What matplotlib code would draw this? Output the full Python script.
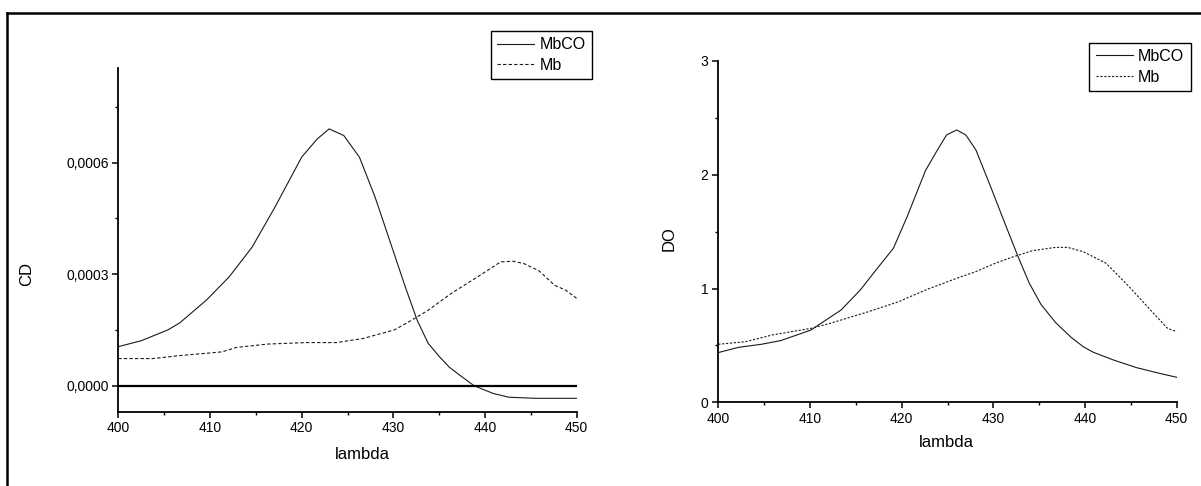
import matplotlib
matplotlib.use("Agg")
import matplotlib.pyplot as plt
from matplotlib.ticker import MultipleLocator, FuncFormatter
from matplotlib.lines import Line2D

plt.rcParams['font.family'] = ['Liberation Sans', 'DejaVu Sans']

# CD panel (values in units of 1e-4)
cd_lam_mbco = [400, 402.5, 405.4, 406.7, 409.6, 412.1, 414.6, 417.1, 420.0, 421.7,
               423.0, 424.6, 426.3, 428.0, 429.6, 431.3, 432.6, 433.8, 435.1, 436.1,
               437.2, 438.8, 440.9, 442.6, 445.5, 450]
cd_mbco = [1.05, 1.21, 1.50, 1.69, 2.30, 2.93, 3.73, 4.81, 6.15, 6.64,
           6.91, 6.73, 6.15, 5.08, 3.91, 2.66, 1.76, 1.14, 0.76, 0.50,
           0.29, 0.0, -0.21, -0.31, -0.34, -0.34]
cd_lam_mb = [400, 403.8, 406.7, 410.4, 411.3, 412.9, 416.3, 420.5, 423.8, 426.7,
             430.1, 431.7, 433.8, 436.3, 439.2, 441.7, 443.0, 444.2, 445.9, 447.6,
             448.8, 450]
cd_mb = [0.73, 0.73, 0.81, 0.89, 0.91, 1.03, 1.12, 1.16, 1.16, 1.27,
         1.50, 1.72, 2.03, 2.48, 2.93, 3.33, 3.35, 3.29, 3.09, 2.70,
         2.57, 2.35]

# DO panel
do_lam_mbco = [400, 402.2, 404.7, 406.8, 410.1, 413.4, 415.5, 417.2, 419.1, 420.6,
               422.6, 423.9, 424.9, 426.0, 427.0, 428.1, 429.7, 431.4, 432.7, 433.9,
               435.2, 436.8, 438.5, 439.8, 440.9, 443.1, 445.6, 448.1, 450]
do_mbco = [0.437, 0.483, 0.510, 0.542, 0.635, 0.812, 0.988, 1.163, 1.354, 1.632,
           2.037, 2.218, 2.350, 2.394, 2.350, 2.218, 1.896, 1.544, 1.280, 1.050,
           0.860, 0.700, 0.570, 0.489, 0.440, 0.372, 0.305, 0.255, 0.220]
do_lam_mb = [400, 403.0, 405.9, 410.1, 412.2, 416.4, 419.7, 422.6, 426.0, 428.1,
             430.2, 432.2, 434.3, 436.8, 438.1, 439.8, 442.3, 444.8, 447.3, 449.0, 450]
do_mb = [0.510, 0.533, 0.592, 0.650, 0.694, 0.797, 0.885, 0.987, 1.090, 1.149,
         1.222, 1.280, 1.333, 1.362, 1.362, 1.324, 1.222, 1.017, 0.797, 0.650, 0.621]

W, H = 1201, 486
fig = plt.figure(figsize=(W / 100, H / 100), dpi=100)

ax1 = fig.add_axes([118.3 / W, 1 - 411.7 / H, 458.4 / W, 343.4 / H])
ax2 = fig.add_axes([718.3 / W, 1 - 402.3 / H, 458.4 / W, 341.3 / H])


def style(ax):
    ax.spines['top'].set_visible(False)
    ax.spines['right'].set_visible(False)
    ax.spines['left'].set_linewidth(1.3)
    ax.spines['bottom'].set_linewidth(1.3)
    ax.set_xlim(400, 450)
    ax.xaxis.set_major_locator(MultipleLocator(10))
    ax.xaxis.set_minor_locator(MultipleLocator(5))
    ax.tick_params(which='major', direction='out', length=4.5, width=1.1,
                   labelsize=10, pad=2.5)
    ax.tick_params(which='minor', direction='out', length=2.5, width=1.0)


lc = '#1a1a1a'
ax1.plot(cd_lam_mbco, [v * 1e-4 for v in cd_mbco], color=lc, lw=0.8, label='MbCO')
ax1.plot(cd_lam_mb, [v * 1e-4 for v in cd_mb], color=lc, lw=0.8, ls=(0, (3, 2)), label='Mb')
ax1.axhline(0, color='black', lw=1.6)
style(ax1)
ax1.set_ylim(-0.00007, 0.000854)
ax1.yaxis.set_major_locator(MultipleLocator(0.0003))
ax1.yaxis.set_minor_locator(MultipleLocator(0.00015))
ax1.yaxis.set_major_formatter(FuncFormatter(lambda v, p: f"{v:.4f}".replace('.', ',').replace('-', '')))
ax1.set_ylabel('CD', fontsize=12)
ax1.yaxis.set_label_coords(-0.184, 0.40)
ax1.set_xlabel('lambda', fontsize=12)
ax1.xaxis.set_label_coords(0.533, -0.103)

ax2.plot(do_lam_mbco, do_mbco, color=lc, lw=0.8, label='MbCO')
ax2.plot(do_lam_mb, do_mb, color=lc, lw=0.8, ls=(0, (2, 1.5)), label='Mb')
style(ax2)
ax2.set_ylim(0, 3)
ax2.yaxis.set_major_locator(MultipleLocator(1))
ax2.yaxis.set_minor_locator(MultipleLocator(0.5))
ax2.set_ylabel('DO', fontsize=12)
ax2.yaxis.set_label_coords(-0.09, 0.48)
ax2.set_xlabel('lambda', fontsize=12)
ax2.xaxis.set_label_coords(0.497, -0.096)

for ax, corner in [(ax1, (592 / W, 1 - 31 / H)), (ax2, (1190.7 / W, 1 - 42.7 / H))]:
    leg = ax.legend(loc='upper right', bbox_to_anchor=corner, bbox_transform=fig.transFigure,
                    fancybox=False, framealpha=1, edgecolor='black', fontsize=11.5,
                    handlelength=2.3, handletextpad=0.35, borderpad=0.4,
                    labelspacing=0.35, borderaxespad=0)
    leg.get_frame().set_linewidth(1.0)

# outer frame (top and left edges)
fig.add_artist(Line2D([7.3 / W, 1], [1 - 12.7 / H, 1 - 12.7 / H], color='black', lw=1.8,
                      transform=fig.transFigure))
fig.add_artist(Line2D([7.3 / W, 7.3 / W], [0, 1 - 12.7 / H], color='black', lw=1.8,
                      transform=fig.transFigure))

plt.savefig('out.png', dpi=100)
